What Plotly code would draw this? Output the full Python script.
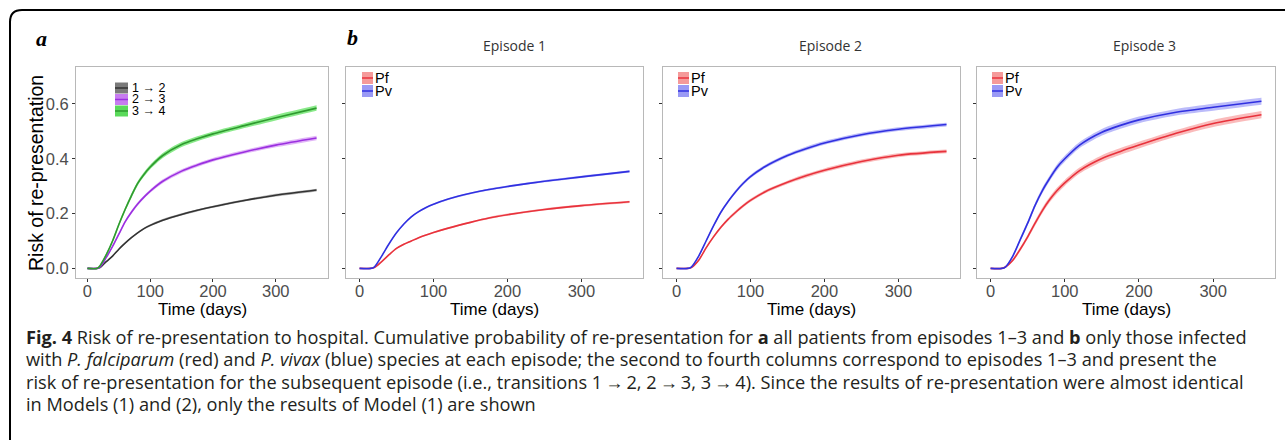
import plotly.graph_objects as go

W, H = 1285, 440

# ---------------- data ----------------
days = [0, 15, 20, 30, 40, 50, 60, 70, 80, 90, 100, 120, 150, 175, 200, 250, 300, 365]

# panel a: transitions
risk_1to2 = [0, 0, 0.003, 0.025, 0.045, 0.07, 0.092, 0.112, 0.13, 0.145, 0.157, 0.176, 0.197, 0.212, 0.225, 0.248, 0.267, 0.286]
risk_2to3 = [0, 0, 0.005, 0.04, 0.08, 0.125, 0.17, 0.205, 0.235, 0.26, 0.282, 0.318, 0.355, 0.377, 0.396, 0.425, 0.45, 0.476]
risk_3to4 = [0, 0, 0.01, 0.05, 0.10, 0.16, 0.215, 0.265, 0.31, 0.343, 0.37, 0.412, 0.452, 0.473, 0.491, 0.521, 0.55, 0.585]
ci_1to2 = [0, 0, 0.001, 0.002, 0.002, 0.003, 0.003, 0.003, 0.003, 0.003, 0.004, 0.004, 0.004, 0.004, 0.004, 0.004, 0.005, 0.005]
ci_2to3 = [0, 0, 0.002, 0.003, 0.004, 0.005, 0.005, 0.006, 0.006, 0.006, 0.006, 0.007, 0.007, 0.007, 0.007, 0.007, 0.008, 0.008]
ci_3to4 = [0, 0, 0.003, 0.005, 0.006, 0.007, 0.007, 0.008, 0.008, 0.008, 0.008, 0.009, 0.009, 0.009, 0.009, 0.009, 0.010, 0.010]

# panel b: species per episode
pf_ep1 = [0, 0, 0.003, 0.025, 0.05, 0.073, 0.088, 0.10, 0.112, 0.122, 0.131, 0.147, 0.168, 0.184, 0.196, 0.215, 0.229, 0.243]
pv_ep1 = [0, 0, 0.005, 0.045, 0.09, 0.13, 0.162, 0.188, 0.207, 0.222, 0.234, 0.253, 0.274, 0.288, 0.299, 0.318, 0.334, 0.354]
pf_ep2 = [0, 0, 0.003, 0.03, 0.075, 0.115, 0.15, 0.18, 0.205, 0.228, 0.248, 0.28, 0.314, 0.338, 0.358, 0.39, 0.413, 0.427]
pv_ep2 = [0, 0, 0.005, 0.045, 0.10, 0.155, 0.205, 0.245, 0.28, 0.31, 0.335, 0.372, 0.412, 0.437, 0.458, 0.488, 0.508, 0.525]
pf_ep3 = [0, 0, 0.005, 0.03, 0.07, 0.115, 0.165, 0.212, 0.252, 0.285, 0.312, 0.357, 0.401, 0.427, 0.45, 0.493, 0.529, 0.561]
pv_ep3 = [0, 0, 0.005, 0.045, 0.105, 0.165, 0.23, 0.285, 0.33, 0.37, 0.40, 0.45, 0.497, 0.522, 0.542, 0.57, 0.588, 0.61]
ci_ep1 = [0, 0, 0.001, 0.002, 0.002, 0.003, 0.003, 0.003, 0.003, 0.003, 0.003, 0.003, 0.003, 0.004, 0.004, 0.004, 0.004, 0.004]
ci_ep2 = [0, 0, 0.002, 0.003, 0.004, 0.005, 0.005, 0.005, 0.006, 0.006, 0.006, 0.006, 0.006, 0.007, 0.007, 0.007, 0.007, 0.007]
ci_ep3 = [0, 0, 0.003, 0.005, 0.007, 0.008, 0.009, 0.010, 0.010, 0.011, 0.011, 0.011, 0.012, 0.012, 0.012, 0.012, 0.013, 0.013]

transition_labels = ["1 \u2192 2", "2 \u2192 3", "3 \u2192 4"]
species_labels = ["Pf", "Pv"]
episode_titles = ["Episode 1", "Episode 2", "Episode 3"]
x_ticks = [0, 100, 200, 300]
y_ticks = [0.0, 0.2, 0.4, 0.6]
y_tick_text = ["0.0", "0.2", "0.4", "0.6"]

caption_lines = [
    "<b>Fig. 4</b> Risk of re-presentation to hospital. Cumulative probability of re-presentation for <b>a</b> all patients from episodes 1\u20133 and <b>b</b> only those infected",
    "with <i>P. falciparum</i> (red) and <i>P. vivax</i> (blue) species at each episode; the second to fourth columns correspond to episodes 1\u20133 and present the",
    "risk of re-presentation for the subsequent episode (i.e., transitions 1\u2009\u2192\u20092, 2\u2009\u2192\u20093, 3\u2009\u2192\u20094). Since the results of re-presentation were almost identical",
    "in Models (1) and (2), only the results of Model (1) are shown",
]

# ---------------- styling ----------------
FONT = "Liberation Sans"
X_RANGE = [-18.25, 383.25]
Y_RANGE = [-0.035, 0.735]
TOP, BOT = 67, 278
panels_px = [(76, 328), (346, 643), (663, 960), (977, 1275)]


def px(x):
    return x / W


def py(y):
    return 1 - y / H


fig = go.Figure()


def add_curve(ax, x, y, ci, line_col, fill_col, width=1.6):
    xa, ya = ("x", "y") if ax == 1 else (f"x{ax}", f"y{ax}")
    lo = [v - c for v, c in zip(y, ci)]
    hi = [v + c for v, c in zip(y, ci)]
    fig.add_trace(go.Scatter(x=x, y=lo, mode="lines", line=dict(width=0, shape="spline", smoothing=0.8),
                             xaxis=xa, yaxis=ya, showlegend=False, hoverinfo="skip"))
    fig.add_trace(go.Scatter(x=x, y=hi, mode="lines", line=dict(width=0, shape="spline", smoothing=0.8),
                             fill="tonexty", fillcolor=fill_col, xaxis=xa, yaxis=ya,
                             showlegend=False, hoverinfo="skip"))
    fig.add_trace(go.Scatter(x=x, y=y, mode="lines", line=dict(color=line_col, width=width, shape="spline", smoothing=0.8),
                             xaxis=xa, yaxis=ya, showlegend=False))


GRAY_L, GRAY_F = "#333333", "rgba(120,120,120,0.55)"
PURP_L, PURP_F = "#9b30e0", "rgba(200,120,240,0.55)"
GREEN_L, GREEN_F = "#2f9a2f", "rgba(60,220,60,0.6)"
RED_L, RED_F = "#e8323c", "rgba(245,120,120,0.5)"
BLUE_L, BLUE_F = "#3030e0", "rgba(120,120,245,0.5)"

add_curve(1, days, risk_1to2, ci_1to2, GRAY_L, GRAY_F)
add_curve(1, days, risk_2to3, ci_2to3, PURP_L, PURP_F)
add_curve(1, days, risk_3to4, ci_3to4, GREEN_L, GREEN_F)

add_curve(2, days, pf_ep1, ci_ep1, RED_L, RED_F)
add_curve(2, days, pv_ep1, ci_ep1, BLUE_L, BLUE_F)
add_curve(3, days, pf_ep2, ci_ep2, RED_L, RED_F)
add_curve(3, days, pv_ep2, ci_ep2, BLUE_L, BLUE_F)
add_curve(4, days, pf_ep3, ci_ep3, RED_L, RED_F)
add_curve(4, days, pv_ep3, ci_ep3, BLUE_L, BLUE_F)

axis_common = dict(
    showgrid=False, zeroline=False, showline=True, mirror=True,
    linecolor="#b8b8b8", linewidth=1, ticks="outside", ticklen=3,
    tickcolor="#333333", tickwidth=1,
    tickfont=dict(family=FONT, size=16.5, color="#4d4d4d"),
)

layout_axes = {}
for i, (x0, x1) in enumerate(panels_px, start=1):
    xk = "xaxis" if i == 1 else f"xaxis{i}"
    yk = "yaxis" if i == 1 else f"yaxis{i}"
    anchor_x = "y" if i == 1 else f"y{i}"
    anchor_y = "x" if i == 1 else f"x{i}"
    layout_axes[xk] = dict(axis_common, domain=[px(x0), px(x1)], range=X_RANGE,
                           tickvals=x_ticks, anchor=anchor_x, ticklabelstandoff=-5)
    layout_axes[yk] = dict(axis_common, domain=[py(BOT), py(TOP)], range=Y_RANGE,
                           tickvals=y_ticks, ticktext=y_tick_text, anchor=anchor_y,
                           showticklabels=(i == 1))

fig.update_layout(
    width=W, height=H, autosize=False,
    margin=dict(l=0, r=0, t=0, b=0),
    paper_bgcolor="white", plot_bgcolor="white",
    font=dict(family=FONT),
    showlegend=False,
    **layout_axes,
)

annotations = []
shapes = []

# axis titles
annotations.append(dict(x=px(36), y=py(173), xref="paper", yref="paper", text="Risk of re-presentation",
                        textangle=-90, showarrow=False, font=dict(family=FONT, size=19.5, color="black"),
                        xanchor="center", yanchor="middle"))
for (x0, x1) in panels_px:
    annotations.append(dict(x=px((x0 + x1) / 2), y=py(309), xref="paper", yref="paper", text="Time (days)",
                            showarrow=False, font=dict(family=FONT, size=17, color="black"),
                            xanchor="center", yanchor="middle"))

# panel letters
annotations.append(dict(x=px(41), y=py(38), xref="paper", yref="paper", text="<b><i>a</i></b>",
                        showarrow=False, font=dict(family="Liberation Serif", size=22, color="black"),
                        xanchor="center", yanchor="middle"))
annotations.append(dict(x=px(352), y=py(37), xref="paper", yref="paper", text="<b><i>b</i></b>",
                        showarrow=False, font=dict(family="Liberation Serif", size=22, color="black"),
                        xanchor="center", yanchor="middle"))

# episode titles
for title, cx in zip(episode_titles, [514, 830, 1144]):
    annotations.append(dict(x=px(cx), y=py(45), xref="paper", yref="paper", text=title,
                            showarrow=False, font=dict(family="Open Sans", size=14, color="#333333"),
                            xanchor="center", yanchor="middle"))

# legend panel a
leg_a_cols = [("#7a7a7a", "#333333"), ("#c77cf0", "#9b30e0"), ("#5ada5a", "#2f9a2f")]
for k, (lab, (fc, lc)) in enumerate(zip(transition_labels, leg_a_cols)):
    yc = 88 + k * 11.5
    shapes.append(dict(type="rect", xref="paper", yref="paper", x0=px(115), x1=px(128),
                       y0=py(yc + 5.5), y1=py(yc - 5.5), fillcolor=fc, line=dict(width=0)))
    shapes.append(dict(type="line", xref="paper", yref="paper", x0=px(115), x1=px(128),
                       y0=py(yc), y1=py(yc), line=dict(color=lc, width=1.5)))
    annotations.append(dict(x=px(131), y=py(yc), xref="paper", yref="paper", text=lab,
                            showarrow=False, font=dict(family=FONT, size=12.5, color="black"),
                            xanchor="left", yanchor="middle", borderpad=0))

# legend panel b
leg_b_cols = [("#f59a9a", RED_L), ("#9a9af5", BLUE_L)]
for kx in [362, 678, 992]:
    for k, (lab, (fc, lc)) in enumerate(zip(species_labels, leg_b_cols)):
        yc = 78 + k * 13
        shapes.append(dict(type="rect", xref="paper", yref="paper", x0=px(kx), x1=px(kx + 11),
                           y0=py(yc + 6), y1=py(yc - 6), fillcolor=fc, line=dict(width=0)))
        shapes.append(dict(type="line", xref="paper", yref="paper", x0=px(kx), x1=px(kx + 11),
                           y0=py(yc), y1=py(yc), line=dict(color=lc, width=1.5)))
        annotations.append(dict(x=px(kx + 12), y=py(yc), xref="paper", yref="paper", text=lab,
                                showarrow=False, font=dict(family=FONT, size=14.5, color="black"),
                                xanchor="left", yanchor="middle", borderpad=0))

# caption
for k, line in enumerate(caption_lines):
    annotations.append(dict(x=px(24), y=py(337 + k * 22.3), xref="paper", yref="paper", text=line,
                            showarrow=False, font=dict(family="Open Sans", size=18.2, color="#231f20"),
                            xanchor="left", yanchor="middle"))

# figure frame (rounded top-left corner)
r = 12
fx, fy = 10, 10
frame_path = (f"M {px(fx)},{py(H + 5)} L {px(fx)},{py(fy + r)} "
              f"Q {px(fx)},{py(fy)} {px(fx + r)},{py(fy)} L {px(W + 5)},{py(fy)}")
shapes.append(dict(type="path", xref="paper", yref="paper", path=frame_path,
                   line=dict(color="black", width=2)))

fig.update_layout(annotations=annotations, shapes=shapes)
fig.write_html("out.html", config={"displayModeBar": False},
               post_script="document.body.style.margin='0';document.body.style.overflow='hidden';")
